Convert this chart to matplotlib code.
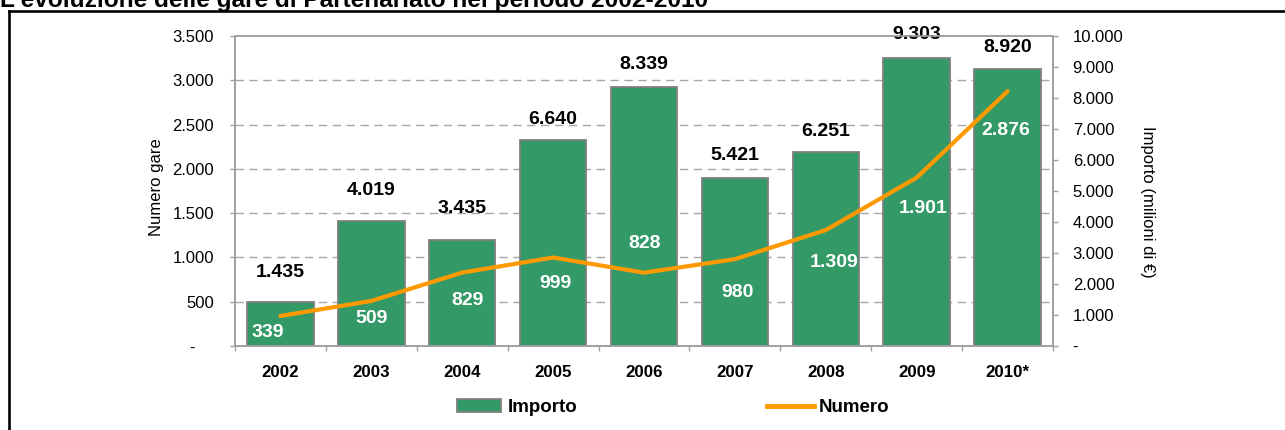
import matplotlib
matplotlib.use('Agg')
import matplotlib.pyplot as plt
from matplotlib.lines import Line2D
from matplotlib.patches import Patch
from matplotlib.transforms import blended_transform_factory
from matplotlib.ticker import FuncFormatter, MultipleLocator

# ---- data ----
years = ['2002', '2003', '2004', '2005', '2006', '2007', '2008', '2009', '2010*']
importo = [1435, 4019, 3435, 6640, 8339, 5421, 6251, 9303, 8920]   # milioni di euro (bars, right axis)
numero = [339, 509, 829, 999, 828, 980, 1309, 1901, 2876]          # numero gare (line, left axis)

title = "L'evoluzione delle gare di Partenariato nel periodo 2002-2010"
left_label = "Numero gare"
right_label = "Importo (milioni di €)"

# ---- style ----
GREEN = '#339966'
ORANGE = '#FF9900'
GRID = '#A6A6A6'
SPINE = '#A0A0A0'
numero_label_offsets = [(-13, -17), (0, -18), (5, -28), (2, -26), (1, 29),
                        (3, -33), (8, -32), (6, -31), (-2, -39)]
importo_label_offsets = [29, 31, 31, 21, 23, 22, 21, 23, 22]

plt.rcParams['font.family'] = ['Liberation Sans', 'DejaVu Sans']


def fmt_it(v):
    return f"{v:,.0f}".replace(',', '.')


W, H = 1285, 430
fig = plt.figure(figsize=(W / 100, H / 100), dpi=100)
ax_line = fig.add_axes([235 / W, (H - 346) / H, (1053 - 235) / W, (346 - 36) / H])
ax_bars = ax_line.twinx()
ax_bars.set_zorder(0)
ax_line.set_zorder(1)
ax_line.patch.set_visible(False)
ax_bars.patch.set_facecolor('white')

x = list(range(len(years)))

# limits
ax_line.set_xlim(-0.5, len(years) - 0.5)
ax_line.set_ylim(0, 3500)
ax_bars.set_ylim(0, 10000)

# gridlines (drawn in bar layer, beneath bars), at left-axis ticks
grid_vals = list(range(500, 3500, 500))
tr = blended_transform_factory(ax_bars.transAxes, ax_line.transData)
for gv in grid_vals:
    ax_bars.add_line(Line2D([0, 1], [gv, gv], transform=tr, color=GRID, lw=1.0,
                            linestyle=(0, (6, 4)), zorder=0.5))

# bars
ax_bars.bar(x, importo, width=0.73, color=GREEN, edgecolor='#808080', linewidth=1.3, zorder=2)

# line
ax_line.plot(x, numero, color=ORANGE, lw=3, solid_capstyle='round', solid_joinstyle='round', zorder=3)

# labels above bars
for i, v in enumerate(importo):
    ax_bars.annotate(fmt_it(v), xy=(i, v), xytext=(0, importo_label_offsets[i]),
                     textcoords='offset pixels', ha='center', va='center',
                     fontsize=14, fontweight='bold', color='black', annotation_clip=False)

# white labels for numero
for i, v in enumerate(numero):
    dx, dy = numero_label_offsets[i]
    ax_line.annotate(fmt_it(v), xy=(i, v), xytext=(dx, dy),
                     textcoords='offset pixels', ha='center', va='center',
                     fontsize=14, fontweight='bold', color='white', zorder=5)

# left axis ticks
ax_line.yaxis.set_major_locator(MultipleLocator(500))
ax_line.yaxis.set_major_formatter(FuncFormatter(lambda v, p: '-    ' if v == 0 else fmt_it(v)))
ax_line.tick_params(axis='y', which='major', direction='out', length=3.6, width=1,
                    color=SPINE, pad=11.5, labelsize=12, labelcolor='black')

# right axis ticks
ax_bars.yaxis.set_major_locator(MultipleLocator(1000))
ax_bars.yaxis.set_major_formatter(FuncFormatter(lambda v, p: '-' if v == 0 else fmt_it(v)))
ax_bars.tick_params(axis='y', which='major', direction='out', length=3.6, width=1,
                    color=SPINE, pad=10.6, labelsize=12, labelcolor='black')

# x axis
ax_line.set_xticks(x)
ax_line.set_xticklabels(years, fontsize=12.2, fontweight='bold')
ax_line.set_xticks([i - 0.5 for i in range(len(years) + 1)], minor=True)
ax_line.tick_params(axis='x', which='major', length=0, pad=13.7)
ax_line.tick_params(axis='x', which='minor', direction='out', length=3.6, width=1, color=SPINE)

for a in (ax_line, ax_bars):
    for s in a.spines.values():
        s.set_color(SPINE)
        s.set_linewidth(1.2)

# axis titles
fig.text(157 / W, 1 - 187 / H, left_label, rotation=90, ha='center', va='center', fontsize=12)
fig.text(1148 / W, 1 - 202 / H, right_label, rotation=270, ha='center', va='center', fontsize=12)

# legends
leg_font = dict(weight='bold', size=13.5)
leg1 = fig.legend(handles=[Patch(facecolor=GREEN, edgecolor='#808080', linewidth=1.3)],
                  labels=['Importo'], loc='center left',
                  bbox_to_anchor=(456.7 / W, 1 - 407.5 / H), frameon=False, borderpad=0,
                  borderaxespad=0, handlelength=2.35, handleheight=0.64,
                  handletextpad=0.37, prop=leg_font)
leg2 = fig.legend(handles=[Line2D([0], [0], color=ORANGE, lw=3.5)],
                  labels=['Numero'], loc='center left',
                  bbox_to_anchor=(766.7 / W, 1 - 407.5 / H), frameon=False, borderpad=0,
                  borderaxespad=0, handlelength=2.5, handletextpad=0.27, prop=leg_font)

# title (partly cut off at the top)
fig.text(0, 1 - 6.7 / H, title, ha='left', va='baseline', fontsize=17.6, fontweight='bold')

# frame lines
fx = 8.7 / W
fy = 1 - 11.3 / H
fig.add_artist(Line2D([fx, fx], [0, fy], transform=fig.transFigure, color='black', lw=1.9,
                      solid_capstyle='projecting'))
fig.add_artist(Line2D([fx, 1], [fy, fy], transform=fig.transFigure, color='black', lw=1.9,
                      solid_capstyle='projecting'))

fig.savefig('out.png', dpi=100)
